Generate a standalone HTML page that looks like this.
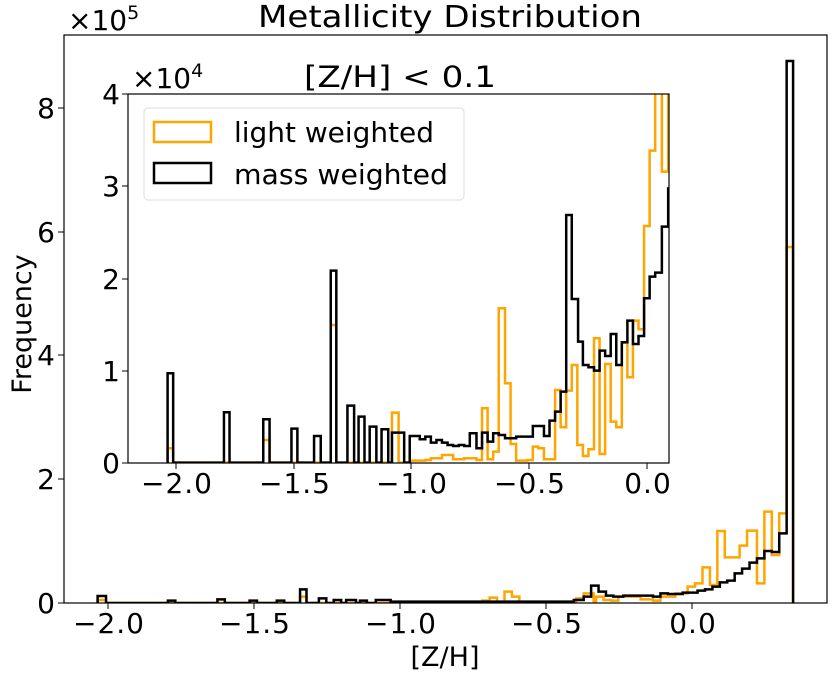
<!DOCTYPE html>
<html><head><meta charset="utf-8"><style>
html,body{margin:0;padding:0;background:#fff;}
svg{display:block;font-family:"DejaVu Sans","Liberation Sans",sans-serif;}
.t{font-size:28px;letter-spacing:1px;}
</style></head><body>
<svg width="835" height="674" viewBox="0 0 835 674" xmlns="http://www.w3.org/2000/svg">
<defs>
<clipPath id="ci"><rect x="128" y="94" width="541" height="369"/></clipPath>
<clipPath id="cm"><rect x="64" y="35" width="763" height="568"/></clipPath>
</defs>
<rect width="835" height="674" fill="#fff"/>
<g clip-path="url(#cm)" fill="none" stroke-width="2.5" stroke-linejoin="miter">
<path transform="matrix(0.495,0,0,0.3333,59,450)" vector-effect="non-scaling-stroke" stroke="#ffa500" d="M78,459 V450 H95 V459 H487 V440 H500 V459 H855 V452 H870 V443 H885 V459 H900 V425 H915 V440 H930 V459 H1045 V445 H1060 V430 H1080 V459 H1085 V440 H1100 V450 H1115 V452 H1130 V440 H1175 V448 H1200 V452 H1215 V440 H1245 V430 H1270 V410 H1285 V400 H1300 V352 H1315 V405 H1330 V243 H1345 V322 H1375 V287 H1390 V242 H1410 V400 H1425 V185 H1440 V315 H1455 V190 H1470 V-609 H1483 V459"/>
<path transform="matrix(0.495,0,0,0.3333,59,450)" vector-effect="non-scaling-stroke" stroke="#000" d="M78,459 V438 H95 V459 H220 V452 H235 V459 H320 V448 H335 V459 H385 V452 H400 V459 H440 V452 H455 V459 H487 V418 H500 V459 H525 V445 H540 V459 H555 V450 H570 V459 H580 V450 H600 V459 H608 V452 H622 V459 H640 V450 H670 V455 H1040 V450 H1060 V440 H1075 V407 H1090 V425 H1105 V437 H1120 V440 H1140 V437 H1200 V440 H1215 V430 H1230 V432 H1260 V428 H1290 V422 H1305 V418 H1320 V410 H1335 V397 H1350 V392 H1365 V370 H1380 V356 H1395 V338 H1410 V325 H1425 V303 H1440 V306 H1455 V250 H1470 V-1167 H1483 V459"/>
</g>
<rect x="64" y="35" width="763" height="568" fill="none" stroke="#000" stroke-width="1.2"/>
<g stroke="#000" stroke-width="1">
<line x1="108" y1="603" x2="108" y2="609"/><line x1="254" y1="603" x2="254" y2="609"/><line x1="400" y1="603" x2="400" y2="609"/><line x1="546" y1="603" x2="546" y2="609"/><line x1="692" y1="603" x2="692" y2="609"/>
<line x1="58" y1="603" x2="64" y2="603"/><line x1="58" y1="479" x2="64" y2="479"/><line x1="58" y1="355" x2="64" y2="355"/><line x1="58" y1="232" x2="64" y2="232"/><line x1="58" y1="108" x2="64" y2="108"/>
</g>
<g class="t" fill="#000" text-anchor="middle">
<text x="109" y="633">−2.0</text><text x="255" y="633">−1.5</text><text x="401" y="633">−1.0</text><text x="547" y="633">−0.5</text><text x="693" y="633">0.0</text>
</g>
<g font-size="28" fill="#000" text-anchor="end">
<text x="55" y="613">0</text><text x="55" y="489">2</text><text x="55" y="365">4</text><text x="55" y="242">6</text><text x="55" y="118">8</text>
</g>
<text x="68" y="30" font-size="28">×10<tspan font-size="19" dy="-11">5</tspan></text>
<text x="450" y="27" font-size="30" text-anchor="middle" textLength="384" lengthAdjust="spacingAndGlyphs">Metallicity Distribution</text>
<text x="445" y="666" font-size="27" text-anchor="middle">[Z/H]</text>
<text transform="translate(31,324) rotate(-90)" font-size="27" text-anchor="middle">Frequency</text>
<rect x="128" y="94" width="541" height="369" fill="#fff"/>
<g clip-path="url(#ci)" fill="none" stroke-width="2.5">
<path transform="matrix(0.3708,0,0,0.3333,99,80)" vector-effect="non-scaling-stroke" stroke="#ffa500" d="M185,1148 V1105 H200 V1148 H443 V1080 H460 V1148 H625 V735 H640 V1148 H790 V998 H808 V1148 H840 V1142 H880 V1140 H895 V1135 H925 V1125 H955 V1138 H985 V1135 H1018 V1140 H1033 V985 H1048 V1138 H1063 V1115 H1078 V685 H1095 V910 H1110 V1092 H1125 V1142 H1155 V1140 H1170 V1100 H1185 V1105 H1200 V1138 H1230 V930 H1245 V1042 H1260 V932 H1275 V855 H1290 V1095 H1305 V1128 H1320 V1108 H1335 V775 H1350 V1122 H1365 V852 H1380 V1025 H1395 V1042 H1410 V788 H1425 V892 H1440 V722 H1455 V748 H1470 V438 H1485 V212 H1500 V0 H1518 V275 H1535 V0 H1545"/>
<path transform="matrix(0.3708,0,0,0.3333,99,80)" vector-effect="non-scaling-stroke" stroke="#000" d="M185,1148 V880 H200 V1148 H337 V997 H352 V1148 H443 V1018 H460 V1148 H519 V1046 H535 V1148 H580 V1068 H598 V1148 H625 V572 H640 V1148 H670 V977 H688 V1148 H700 V1010 H716 V1148 H730 V1040 H748 V1148 H762 V1048 H780 V1148 H790 V1058 H823 V1148 H838 V1068 H865 V1078 H880 V1070 H895 V1088 H910 V1080 H925 V1088 H940 V1095 H955 V1098 H970 V1095 H985 V1098 H1000 V1060 H1018 V1105 H1033 V1058 H1048 V1085 H1063 V1060 H1078 V1065 H1095 V1075 H1125 V1070 H1170 V1038 H1200 V1068 H1215 V1022 H1230 V995 H1245 V935 H1260 V405 H1275 V657 H1292 V785 H1305 V855 H1320 V862 H1335 V872 H1350 V812 H1365 V828 H1380 V762 H1395 V855 H1410 V787 H1425 V722 H1440 V792 H1455 V768 H1470 V655 H1485 V590 H1500 V578 H1518 V440 H1535 V325 H1545"/>
</g>
<rect x="128" y="94" width="541" height="369" fill="none" stroke="#000" stroke-width="1.2"/>
<g stroke="#000" stroke-width="1">
<line x1="176" y1="463" x2="176" y2="469"/><line x1="294" y1="463" x2="294" y2="469"/><line x1="411" y1="463" x2="411" y2="469"/><line x1="529" y1="463" x2="529" y2="469"/><line x1="647" y1="463" x2="647" y2="469"/>
<line x1="122" y1="463" x2="128" y2="463"/><line x1="122" y1="371" x2="128" y2="371"/><line x1="122" y1="279" x2="128" y2="279"/><line x1="122" y1="186" x2="128" y2="186"/><line x1="122" y1="94" x2="128" y2="94"/>
</g>
<g class="t" fill="#000" text-anchor="middle">
<text x="177" y="493">−2.0</text><text x="295" y="493">−1.5</text><text x="412" y="493">−1.0</text><text x="530" y="493">−0.5</text><text x="648" y="493">0.0</text>
</g>
<g font-size="28" fill="#000" text-anchor="end">
<text x="120" y="473">0</text><text x="120" y="381">1</text><text x="120" y="289">2</text><text x="120" y="196">3</text><text x="120" y="104">4</text>
</g>
<text x="132" y="88" font-size="28">×10<tspan font-size="19" dy="-11">4</tspan></text>
<text x="400" y="87" font-size="29" text-anchor="middle" textLength="192" lengthAdjust="spacingAndGlyphs">[Z/H] &lt; 0.1</text>
<rect x="144" y="108" width="320" height="92" rx="4" fill="#fff" fill-opacity="0.8" stroke="#ddd" stroke-width="1"/>
<rect x="154" y="122" width="57" height="20" fill="none" stroke="#ffa500" stroke-width="2.5"/>
<rect x="154" y="163" width="57" height="20" fill="none" stroke="#000" stroke-width="2.5"/>
<text x="234" y="142" font-size="28" textLength="200" lengthAdjust="spacingAndGlyphs">light weighted</text>
<text x="234" y="184" font-size="28" textLength="214" lengthAdjust="spacingAndGlyphs">mass weighted</text>
</svg>
</body></html>
